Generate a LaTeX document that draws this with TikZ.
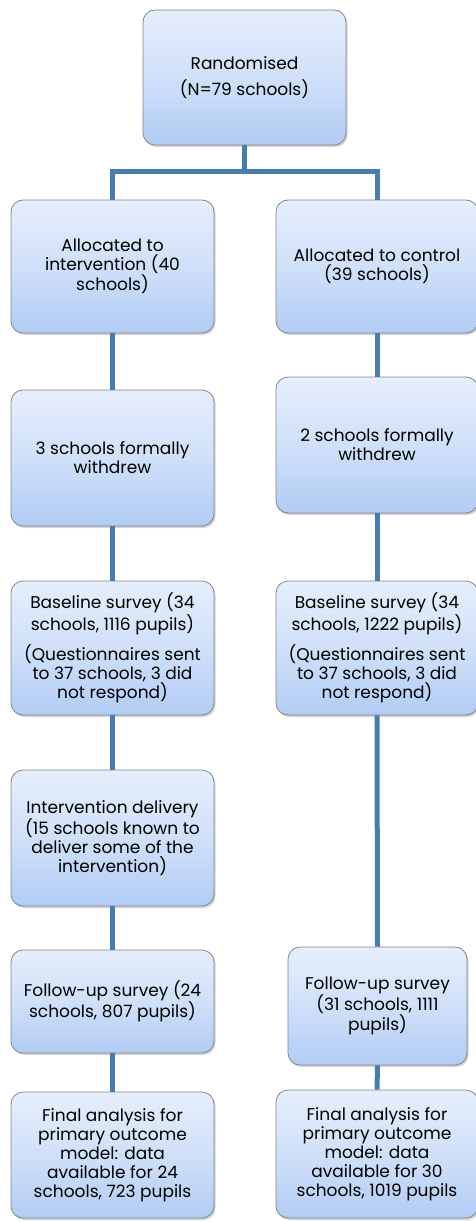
\documentclass[tikz,border=0pt]{standalone}
\usepackage{fontspec}
\setmainfont{Poppins}
\usetikzlibrary{shadows}
\definecolor{lineblue}{HTML}{4A7BAF}
\definecolor{boxtop}{HTML}{E6EEFC}
\definecolor{boxmid}{HTML}{D0E0F9}
\definecolor{boxbot}{HTML}{B2CCF4}
\definecolor{boxedge}{HTML}{80868F}
\tikzset{
 flowbox/.style={draw=boxedge, line width=0.8pt, rounded corners=12pt,
   top color=boxtop, bottom color=boxbot, middle color=boxmid,
   align=center, font=\fontsize{17}{19}\selectfont, inner sep=0pt,
   drop shadow={shadow xshift=1.5pt, shadow yshift=-2pt, opacity=0.35}},
 link/.style={draw=lineblue, line width=5pt}
}
\begin{document}
\begin{tikzpicture}[x=1pt,y=-1pt]
\useasboundingbox (0,0) rectangle (475,1222);
\node[flowbox, minimum width=203pt, minimum height=135pt] (top) at (244.5,77.5) {Randomised\\[7pt](N=79 schools)};
\node[flowbox, minimum width=203pt, minimum height=133pt] (L1) at (112.5,266.5) {Allocated to\\intervention (40\\schools)};
\node[flowbox, minimum width=202pt, minimum height=133pt] (R1) at (377,266.5) {Allocated to control\\(39 schools)};
\node[flowbox, minimum width=203pt, minimum height=136pt] (L2) at (112.5,458) {3 schools formally\\withdrew};
\node[flowbox, minimum width=202pt, minimum height=136pt] (R2) at (377,445) {2 schools formally\\withdrew};
\node[flowbox, minimum width=203pt, minimum height=134pt] (L3) at (112.5,648) {Baseline survey (34\\schools, 1116 pupils)\\[9pt](Questionnaires sent\\to 37 schools, 3 did\\not respond)};
\node[flowbox, minimum width=202pt, minimum height=134pt] (R3) at (377,648) {Baseline survey (34\\schools, 1222 pupils)\\[9pt](Questionnaires sent\\to 37 schools, 3 did\\not respond)};
\node[flowbox, minimum width=203pt, minimum height=136pt] (L4) at (112.5,838) {Intervention delivery\\(15 schools known to\\deliver some of the\\intervention)};
\node[flowbox, minimum width=203pt, minimum height=103pt] (L5) at (112.5,1001.5) {Follow-up survey (24\\schools, 807 pupils)};
\node[flowbox, minimum width=179pt, minimum height=118pt] (R5) at (377.5,1006) {Follow-up survey\\(31 schools, 1111\\pupils)};
\node[flowbox, minimum width=203pt, minimum height=126pt] (L6) at (112.5,1155) {Final analysis for\\primary outcome\\model: data\\available for 24\\schools, 723 pupils};
\node[flowbox, minimum width=202pt, minimum height=128pt] (R6) at (377,1154) {Final analysis for\\primary outcome\\model: data\\available for 30\\schools, 1019 pupils};
\coordinate (split) at (top.south |- 0,172);
\draw[link] (top.south) -- (split);
\draw[link] (L1.north) |- (split) -| (R1.north);
\draw[link] (L1.south) -- (L2.north);
\draw[link] (L2.south) -- (L3.north);
\draw[link] (L3.south) -- (L4.north);
\draw[link] (L4.south) -- (L5.north);
\draw[link] (L5.south) -- (L6.north);
\draw[link] (R1.south) -- (R2.north);
\draw[link] (R2.south) -- (R3.north);
\draw[link] (R3.south) -- (R5.north);
\draw[link] (R5.south) -- (R6.north);
\end{tikzpicture}
\end{document}
